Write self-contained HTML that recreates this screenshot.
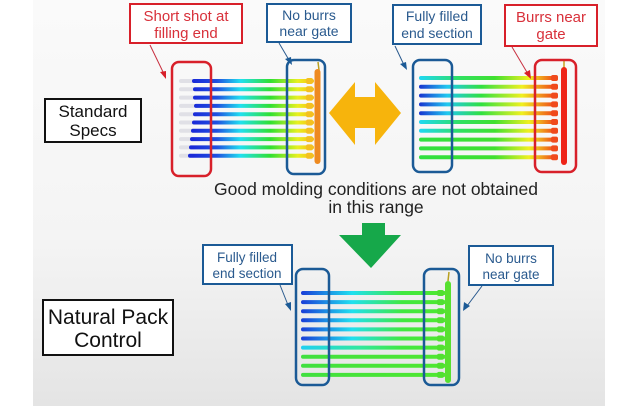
<!DOCTYPE html>
<html><head><meta charset="utf-8"><style>
html,body{margin:0;padding:0;background:#fff;}
svg{display:block;}
text{font-family:"Liberation Sans","DejaVu Sans",sans-serif;}
</style></head><body>
<svg width="632" height="406" viewBox="0 0 632 406" xmlns="http://www.w3.org/2000/svg">
<defs>
<linearGradient id="bg" x1="0" y1="0" x2="0" y2="1">
<stop offset="0" stop-color="#fafafa"/><stop offset="0.6" stop-color="#f4f4f4"/><stop offset="1" stop-color="#e4e4e4"/></linearGradient>
<linearGradient id="gA" x1="193" y1="0" x2="312" y2="0" gradientUnits="userSpaceOnUse">
<stop offset="0" stop-color="#1a2ad8"/><stop offset="0.2" stop-color="#2050e0"/><stop offset="0.4" stop-color="#20e0f0"/><stop offset="0.65" stop-color="#30e030"/><stop offset="0.88" stop-color="#e8f020"/><stop offset="1" stop-color="#f8c010"/></linearGradient>
<linearGradient id="gB1" x1="420" y1="0" x2="556" y2="0" gradientUnits="userSpaceOnUse">
<stop offset="0" stop-color="#20d8f0"/><stop offset="0.3" stop-color="#30e060"/><stop offset="0.55" stop-color="#40e030"/><stop offset="0.8" stop-color="#f0f020"/><stop offset="1" stop-color="#f04018"/></linearGradient>
<linearGradient id="gB2" x1="420" y1="0" x2="556" y2="0" gradientUnits="userSpaceOnUse">
<stop offset="0" stop-color="#1838d0"/><stop offset="0.2" stop-color="#20c8f0"/><stop offset="0.45" stop-color="#30e040"/><stop offset="0.75" stop-color="#f0f020"/><stop offset="1" stop-color="#f04018"/></linearGradient>
<linearGradient id="gB3" x1="420" y1="0" x2="556" y2="0" gradientUnits="userSpaceOnUse">
<stop offset="0" stop-color="#30e040"/><stop offset="0.55" stop-color="#40e030"/><stop offset="0.8" stop-color="#f0f020"/><stop offset="1" stop-color="#f04018"/></linearGradient>
<linearGradient id="gC1" x1="302" y1="0" x2="445" y2="0" gradientUnits="userSpaceOnUse">
<stop offset="0" stop-color="#1a40d8"/><stop offset="0.35" stop-color="#20e0f0"/><stop offset="0.7" stop-color="#40e840"/><stop offset="1" stop-color="#50e830"/></linearGradient>
<linearGradient id="gC2" x1="302" y1="0" x2="445" y2="0" gradientUnits="userSpaceOnUse">
<stop offset="0" stop-color="#20d0f0"/><stop offset="0.4" stop-color="#30e8a0"/><stop offset="0.7" stop-color="#40e840"/><stop offset="1" stop-color="#50e830"/></linearGradient>
<linearGradient id="gC3" x1="302" y1="0" x2="445" y2="0" gradientUnits="userSpaceOnUse">
<stop offset="0" stop-color="#40e040"/><stop offset="1" stop-color="#50e830"/></linearGradient>
</defs>
<rect x="33" y="0" width="572" height="406" fill="url(#bg)"/>

<g stroke-width="4" stroke-linecap="round">
<g stroke="#e0e0e6">
<line x1="181" y1="81" x2="193" y2="81"/><line x1="181" y1="89.3" x2="193" y2="89.3"/><line x1="181" y1="97.6" x2="193" y2="97.6"/><line x1="181" y1="105.9" x2="193" y2="105.9"/><line x1="181" y1="114.2" x2="193" y2="114.2"/><line x1="181" y1="122.5" x2="193" y2="122.5"/><line x1="181" y1="130.8" x2="193" y2="130.8"/><line x1="181" y1="139.1" x2="193" y2="139.1"/><line x1="181" y1="147.4" x2="193" y2="147.4"/><line x1="181" y1="155.7" x2="193" y2="155.7"/>
</g>
<g stroke="url(#gA)">
<line x1="194" y1="81" x2="312" y2="81"/><line x1="195" y1="89.3" x2="312" y2="89.3"/><line x1="195" y1="97.6" x2="312" y2="97.6"/><line x1="196" y1="105.9" x2="312" y2="105.9"/><line x1="195" y1="114.2" x2="312" y2="114.2"/><line x1="194" y1="122.5" x2="312" y2="122.5"/><line x1="193" y1="130.8" x2="312" y2="130.8"/><line x1="192" y1="139.1" x2="312" y2="139.1"/><line x1="191" y1="147.4" x2="312" y2="147.4"/><line x1="190" y1="155.7" x2="312" y2="155.7"/>
</g>
</g>
<g fill="#f4c020">
<rect x="306" y="78" width="7" height="6" rx="2"/><rect x="306" y="86.3" width="7" height="6" rx="2"/><rect x="306" y="94.6" width="7" height="6" rx="2"/><rect x="306" y="102.9" width="7" height="6" rx="2"/><rect x="306" y="111.2" width="7" height="6" rx="2"/><rect x="306" y="119.5" width="7" height="6" rx="2"/><rect x="306" y="127.8" width="7" height="6" rx="2"/><rect x="306" y="136.1" width="7" height="6" rx="2"/><rect x="306" y="144.4" width="7" height="6" rx="2"/><rect x="306" y="152.7" width="7" height="6" rx="2"/>
</g>
<line x1="318" y1="62" x2="319" y2="70" stroke="#b8a020" stroke-width="1.5"/>
<rect x="314.5" y="69" width="6" height="95" rx="3" fill="#ee8a20"/>
<rect x="172" y="62" width="39" height="114" rx="7" fill="none" stroke="#d8202a" stroke-width="2.5"/>
<rect x="287" y="60" width="38" height="114" rx="7" fill="none" stroke="#1b5a96" stroke-width="2.5"/>

<g stroke-width="4" stroke-linecap="round">
<line x1="421" y1="78" x2="556" y2="78" stroke="url(#gB1)"/>
<line x1="421" y1="86.8" x2="556" y2="86.8" stroke="url(#gB2)"/>
<line x1="421" y1="95.6" x2="556" y2="95.6" stroke="url(#gB2)"/>
<line x1="421" y1="104.4" x2="556" y2="104.4" stroke="url(#gB2)"/>
<line x1="421" y1="113.2" x2="556" y2="113.2" stroke="url(#gB2)"/>
<line x1="421" y1="122" x2="556" y2="122" stroke="url(#gB1)"/>
<line x1="421" y1="130.8" x2="556" y2="130.8" stroke="url(#gB1)"/>
<line x1="421" y1="139.6" x2="556" y2="139.6" stroke="url(#gB3)"/>
<line x1="421" y1="148.4" x2="556" y2="148.4" stroke="url(#gB3)"/>
<line x1="421" y1="157.2" x2="556" y2="157.2" stroke="url(#gB3)"/>
</g>
<g fill="#f04a1c">
<rect x="551" y="75" width="7" height="6" rx="2"/><rect x="551" y="83.8" width="7" height="6" rx="2"/><rect x="551" y="92.6" width="7" height="6" rx="2"/><rect x="551" y="101.4" width="7" height="6" rx="2"/><rect x="551" y="110.2" width="7" height="6" rx="2"/><rect x="551" y="119" width="7" height="6" rx="2"/><rect x="551" y="127.8" width="7" height="6" rx="2"/><rect x="551" y="136.6" width="7" height="6" rx="2"/><rect x="551" y="145.4" width="7" height="6" rx="2"/><rect x="551" y="154.2" width="7" height="6" rx="2"/>
</g>
<line x1="564" y1="60" x2="564" y2="68" stroke="#c8a020" stroke-width="1.5"/>
<rect x="561" y="67" width="6" height="98" rx="3" fill="#ee2418"/>
<rect x="413" y="60" width="39" height="112" rx="7" fill="none" stroke="#1b5a96" stroke-width="2.5"/>
<rect x="535" y="60" width="41" height="112" rx="7" fill="none" stroke="#d8202a" stroke-width="2.5"/>

<g stroke-width="4" stroke-linecap="round">
<line x1="303" y1="293" x2="444" y2="293" stroke="url(#gC1)"/>
<line x1="303" y1="302.1" x2="444" y2="302.1" stroke="url(#gC1)"/>
<line x1="303" y1="311.2" x2="444" y2="311.2" stroke="url(#gC1)"/>
<line x1="303" y1="320.3" x2="444" y2="320.3" stroke="url(#gC1)"/>
<line x1="303" y1="329.4" x2="444" y2="329.4" stroke="url(#gC1)"/>
<line x1="303" y1="338.5" x2="444" y2="338.5" stroke="url(#gC1)"/>
<line x1="303" y1="347.6" x2="444" y2="347.6" stroke="url(#gC2)"/>
<line x1="303" y1="356.7" x2="444" y2="356.7" stroke="url(#gC3)"/>
<line x1="303" y1="365.8" x2="444" y2="365.8" stroke="url(#gC3)"/>
<line x1="303" y1="374.9" x2="444" y2="374.9" stroke="url(#gC3)"/>
</g>
<g fill="#50e030">
<rect x="437" y="290" width="7" height="6" rx="2"/><rect x="437" y="299.1" width="7" height="6" rx="2"/><rect x="437" y="308.2" width="7" height="6" rx="2"/><rect x="437" y="317.3" width="7" height="6" rx="2"/><rect x="437" y="326.4" width="7" height="6" rx="2"/><rect x="437" y="335.5" width="7" height="6" rx="2"/><rect x="437" y="344.6" width="7" height="6" rx="2"/><rect x="437" y="353.7" width="7" height="6" rx="2"/><rect x="437" y="362.8" width="7" height="6" rx="2"/><rect x="437" y="371.9" width="7" height="6" rx="2"/>
</g>
<line x1="449" y1="272" x2="448" y2="281" stroke="#b8a020" stroke-width="1.5"/>
<rect x="445" y="281" width="6" height="102" rx="3" fill="#58e030"/>
<rect x="296" y="269" width="33" height="116" rx="7" fill="none" stroke="#1b5a96" stroke-width="2.5"/>
<rect x="424" y="269" width="35" height="116" rx="7" fill="none" stroke="#1b5a96" stroke-width="2.5"/>

<g font-size="15" text-anchor="middle">
<rect x="130" y="4" width="112" height="39" fill="#fff" stroke="#d8202a" stroke-width="2"/>
<text x="186" y="21" fill="#d8303a">Short shot at</text><text x="186" y="38" fill="#d8303a">filling end</text>
<rect x="267" y="4" width="84" height="38" fill="#fff" stroke="#1b5a96" stroke-width="2"/>
<text x="309" y="20" fill="#2a5a8e" font-size="14">No burrs</text><text x="309" y="36" fill="#2a5a8e" font-size="14">near gate</text>
<rect x="393" y="5" width="88" height="39" fill="#fff" stroke="#1b5a96" stroke-width="2"/>
<text x="437" y="21" fill="#2a5a8e" font-size="14">Fully filled</text><text x="437" y="38" fill="#2a5a8e" font-size="14">end section</text>
<rect x="505" y="5" width="92" height="41" fill="#fff" stroke="#d8202a" stroke-width="2"/>
<text x="551" y="22" fill="#d8303a">Burrs near</text><text x="551" y="39" fill="#d8303a">gate</text>
<rect x="203" y="245" width="89" height="39" fill="#fff" stroke="#1b5a96" stroke-width="2"/>
<text x="247" y="262" fill="#2a5a8e" font-size="13.5">Fully filled</text><text x="247" y="278" fill="#2a5a8e" font-size="13.5">end section</text>
<rect x="469" y="246" width="84" height="39" fill="#fff" stroke="#1b5a96" stroke-width="2"/>
<text x="511" y="263" fill="#2a5a8e" font-size="13.5">No burrs</text><text x="511" y="279" fill="#2a5a8e" font-size="13.5">near gate</text>
<rect x="45" y="99" width="96" height="43" fill="#fff" stroke="#111" stroke-width="2"/>
<text x="93" y="117" fill="#111" font-size="17">Standard</text><text x="93" y="136" fill="#111" font-size="17">Specs</text>
<rect x="43" y="300" width="130" height="55" fill="#fff" stroke="#111" stroke-width="2"/>
<text x="108" y="324" fill="#111" font-size="21">Natural Pack</text><text x="108" y="347" fill="#111" font-size="21">Control</text>
<text x="376" y="195" fill="#222" font-size="17.5">Good molding conditions are not obtained</text>
<text x="376" y="213" fill="#222" font-size="17.5">in this range</text>
</g>

<g stroke="#c83040" stroke-width="1" fill="#d8202a">
<line x1="150" y1="45" x2="164" y2="74"/><polygon points="166,79 160,72 166,71" stroke="none"/>
<line x1="512" y1="47" x2="528" y2="74"/><polygon points="531,79 524,73 530,70" stroke="none"/>
</g>
<g stroke="#2a5a8e" stroke-width="1" fill="#1b5a96">
<line x1="279" y1="43" x2="289" y2="60"/><polygon points="292,65 285,59 291,57" stroke="none"/>
<line x1="395" y1="46" x2="404" y2="65"/><polygon points="407,70 400,64 406,62" stroke="none"/>
<line x1="280" y1="285" x2="288" y2="305"/><polygon points="291,311 285,304 291,302" stroke="none"/>
<line x1="482" y1="286" x2="467" y2="306"/><polygon points="463,311 464,302 470,306" stroke="none"/>
</g>

<polygon points="329,113 355,82 355,97 375,97 375,82 401,113 375,145 375,128 355,128 355,145" fill="#f7b40c"/>
<polygon points="362,223 385,223 385,235 401,235 371,268 339,235 362,235" fill="#16a84a"/>
</svg>
</body></html>
